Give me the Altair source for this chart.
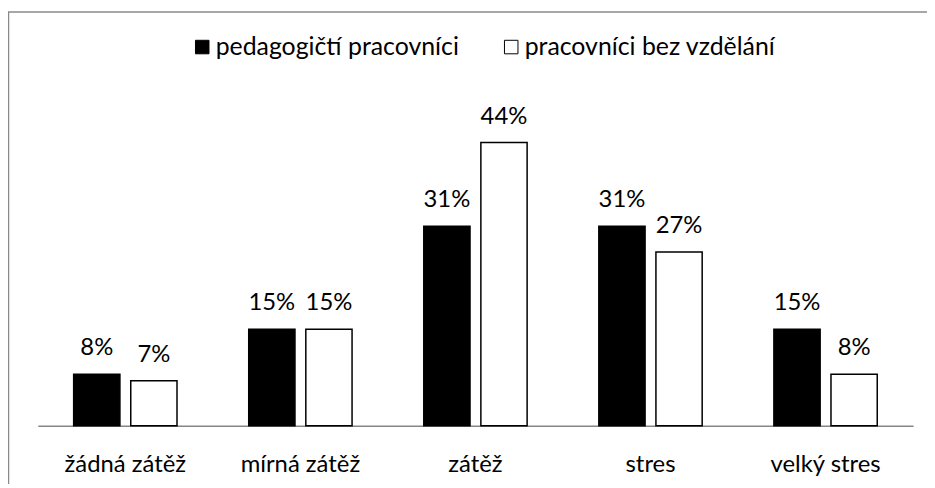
import altair as alt
import pandas as pd

categories = ["žádná zátěž", "mírná zátěž", "zátěž", "stres", "velký stres"]
series = ["pedagogičtí pracovníci", "pracovníci bez vzdělání"]
pedagogicti = [8, 15, 31, 31, 15]
bez_vzdelani = [7, 15, 44, 27, 8]

rows = []
for s, vals in zip(series, [pedagogicti, bez_vzdelani]):
    for c, v in zip(categories, vals):
        rows.append({"kategorie": c, "skupina": s, "hodnota": v, "popisek": f"{v}%"})
df = pd.DataFrame(rows)

FONT = "Lato"

x_enc = alt.X(
    "kategorie:N",
    sort=categories,
    scale=alt.Scale(paddingInner=0, paddingOuter=0),
    axis=alt.Axis(
        title=None,
        labelAngle=0,
        ticks=False,
        domainColor="#868686",
        domainWidth=1.5,
        labelFont=FONT,
        labelFontSize=24,
        labelColor="black",
        labelBaseline="alphabetic",
        labelPadding=46,
    ),
)
xoff_enc = alt.XOffset(
    "skupina:N", sort=series, scale=alt.Scale(paddingInner=0.19, paddingOuter=0.628)
)
y_enc = alt.Y("hodnota:Q", scale=alt.Scale(domain=[0, 50]), axis=None)

base = alt.Chart(df)

bars = base.mark_bar(stroke="black", strokeWidth=1.5).encode(
    x=x_enc,
    xOffset=xoff_enc,
    y=y_enc,
    fill=alt.Fill(
        "skupina:N",
        sort=series,
        scale=alt.Scale(domain=series, range=["black", "white"]),
        legend=alt.Legend(
            title=None,
            orient="none",
            legendX=153,
            legendY=-70,
            direction="horizontal",
            symbolType="square",
            symbolSize=185,
            symbolStrokeColor="black",
            symbolStrokeWidth=1,
            symbolOpacity=1,
            labelFont=FONT,
            labelFontSize=25,
            labelColor="black",
            labelOffset=1,
            labelLimit=400,
            columnPadding=40,
        ),
    ),
)

labels = base.mark_text(
    baseline="alphabetic", dy=-19, font=FONT, fontSize=24, color="black"
).encode(x=x_enc, xOffset=xoff_enc, y=y_enc, text="popisek:N")

frame = alt.Chart(pd.DataFrame({"a": [0]})).mark_rect(
    filled=False, stroke="#8a8a8a", strokeWidth=1.5
).encode(
    x=alt.value(-29.5), x2=alt.value(1000), y=alt.value(-92.5), y2=alt.value(500)
)

chart = (
    alt.layer(frame, bars, labels)
    .properties(
        width=881,
        height=324,
        autosize=alt.AutoSizeParams(type="none"),
        padding={"left": 30, "top": 95, "right": 14, "bottom": 57},
    )
    .configure_view(stroke=None)
)

chart.save("out.html", embed_options={"renderer": "svg", "actions": False})
